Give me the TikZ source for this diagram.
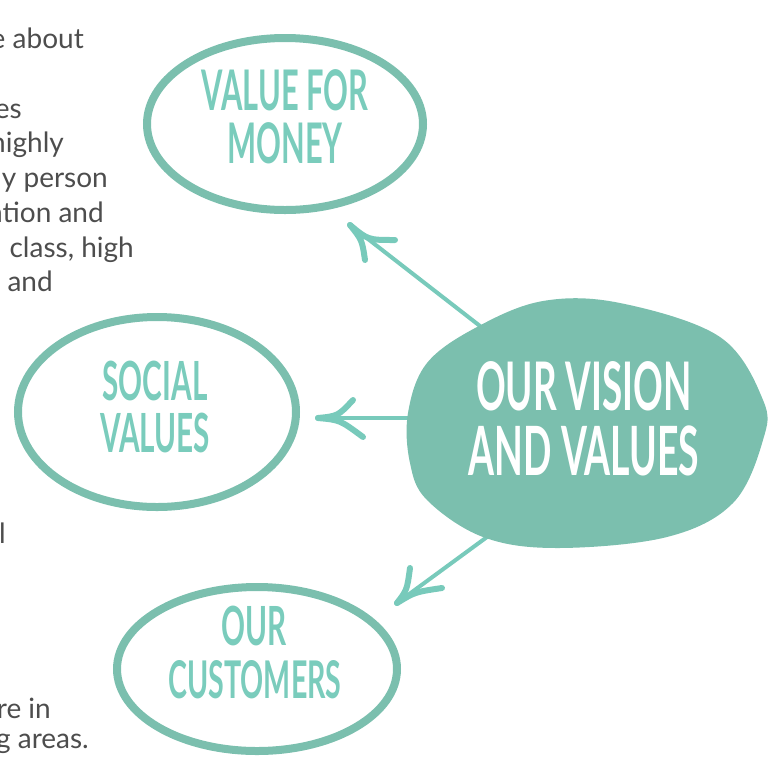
\documentclass[tikz,border=0pt]{standalone}
\usepackage{fontspec}
\setmainfont{Lato}
\newfontfamily\handfont[FakeStretch=0.55]{Lato}
\definecolor{teal}{HTML}{7BBFAE}
\definecolor{arrowc}{HTML}{78CABB}
\definecolor{labelc}{HTML}{7ACCBC}
\definecolor{bodytext}{HTML}{4D4D4D}
\tikzset{
  body/.style={font=\fontsize{28}{32}\selectfont, text=bodytext, inner sep=0pt, anchor=base east},
  hand/.style={font=\handfont\bfseries\fontsize{#1}{#1}\selectfont, text=labelc, inner sep=0pt, anchor=base},
  handw/.style={font=\handfont\bfseries\fontsize{#1}{#1}\selectfont, text=white, inner sep=0pt, anchor=base},
  ring/.style={draw=teal, line width=8pt},
  shaft/.style={draw=arrowc, line width=4pt, line cap=round},
  barb/.style={draw=arrowc, line width=6pt, line cap=round},
}
\begin{document}
\begin{tikzpicture}[x=1pt,y=-1pt]
\useasboundingbox (0,0) rectangle (773,756);
% clipped body text on the left
\node[body] (t1) at (84,48) {e about};
\node[body] (t2) at (22,118) {es};
\node[body] (t3) at (64,152) {highly};
\node[body] (t4) at (108,187) {y person};
\node[body] (t5) at (104,222) {ation and};
\node[body] (t6) at (134,257) {class, high};
\node[body] (t7) at (53,291) {and};
\node[body, anchor=base west] (t8) at (-1,543) {l};
\node[body] (t9) at (51,718) {re in};
\node[body] (t10) at (89,748) {g areas.};

% outlined ellipses
\draw[ring] (285,124) ellipse [x radius=138, y radius=86];
\draw[ring] (157,412) ellipse [x radius=139, y radius=95];
\draw[ring] (257,669) ellipse [x radius=140, y radius=82];

% connector coordinates
\coordinate (a1s) at (480,326); \coordinate (a1t) at (350,225);
\coordinate (a2s) at (420,418); \coordinate (a2t) at (318,418);
\coordinate (a3s) at (487,537); \coordinate (a3t) at (397,603);

% arrows
\draw[shaft] (a1s) -- (a1t);
\draw[barb] (a1t) .. controls (368,240) .. (395,240);
\draw[barb] (a1t) .. controls (362,240) .. (365,260);
\draw[shaft] (a2s) -- (a2t);
\draw[barb] (a2t) .. controls (338,416) .. (353,400);
\draw[barb] (a2t) .. controls (340,420) .. (363,437);
\draw[shaft] (a3s) -- (a3t);
\draw[barb] (a3t) .. controls (407,590) .. (410,568);
\draw[barb] (a3t) .. controls (415,592) .. (442,588);

% central blob
\fill[teal] plot[smooth cycle, tension=0.6] coordinates {
 (543,301) (620,303) (720,337) (763,400) (763,440) (733,503)
 (667,537) (557,548) (483,537) (427,500) (410,463) (408,413)
 (427,363) (477,327)};

% labels
\node[hand=56] (v1) at (285,110) {VALUE FOR};
\node[hand=56] (v2) at (285,163) {MONEY};
\node[hand=54] (s1) at (155,400) {SOCIAL};
\node[hand=54] (s2) at (155,452) {VALUES};
\node[hand=54] (c1) at (254,645) {OUR};
\node[hand=52] (c2) at (255,698) {CUSTOMERS};
\node[handw=67] (o1) at (584,410) {OUR VISION};
\node[handw=68] (o2) at (584,475) {AND VALUES};
\end{tikzpicture}
\end{document}
